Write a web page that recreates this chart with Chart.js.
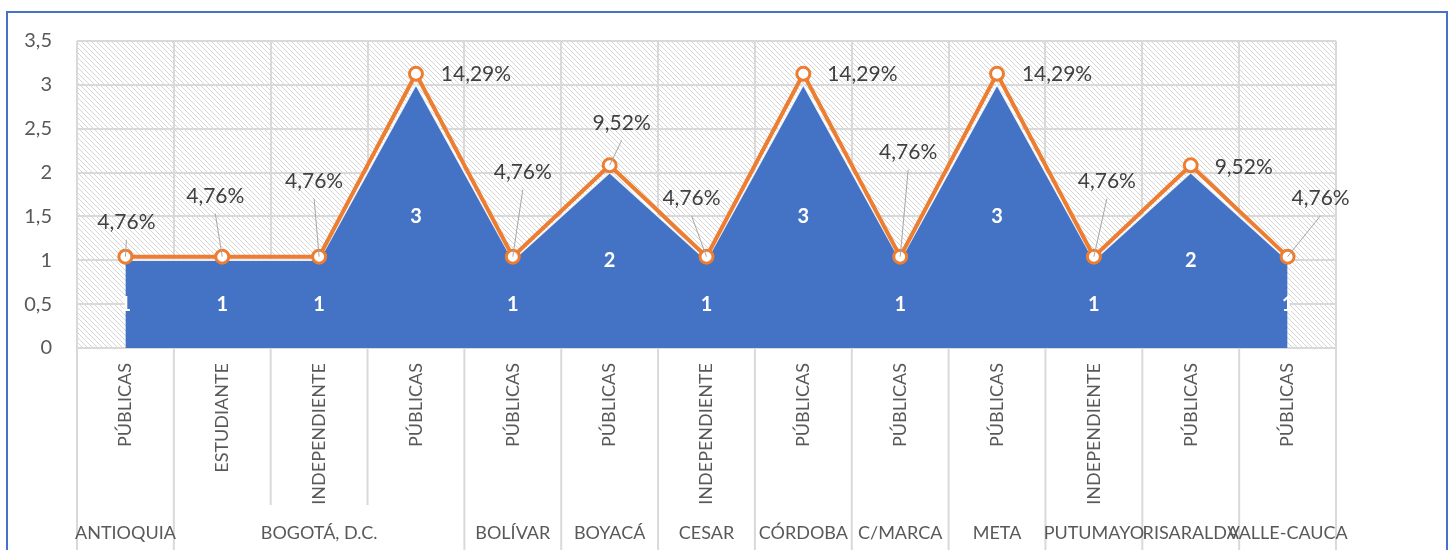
<!DOCTYPE html>
<html>
<head>
<meta charset="utf-8">
<script src="https://cdn.jsdelivr.net/npm/chart.js@4"></script>
<style>
  body{margin:0;background:#fff;overflow:hidden}
  #frame{position:absolute;left:6px;top:11px;width:1442px;height:620px;border:2px solid #4472C4;box-sizing:border-box}
  #wrap{position:absolute;left:0;top:0;width:1450px;height:550px}
</style>
</head>
<body>
<div id="frame"></div>
<div id="wrap"><canvas id="c"></canvas></div>
<script>
// data
var subLabels = ['PÚBLICAS','ESTUDIANTE','INDEPENDIENTE','PÚBLICAS','PÚBLICAS','PÚBLICAS','INDEPENDIENTE','PÚBLICAS','PÚBLICAS','PÚBLICAS','INDEPENDIENTE','PÚBLICAS','PÚBLICAS'];
var groupLabels = ['ANTIOQUIA','BOGOTÁ, D.C.','BOLÍVAR','BOYACÁ','CESAR','CÓRDOBA','C/MARCA','META','PUTUMAYO','RISARALDA','VALLE-CAUCA'];
var groupSpans = [1,3,1,1,1,1,1,1,1,1,1];
var counts = [1,1,1,3,1,2,1,3,1,3,1,2,1];
var shares = [0.0476,0.0476,0.0476,0.1429,0.0476,0.0952,0.0476,0.1429,0.0476,0.1429,0.0476,0.0952,0.0476];
var yTicks = [0,0.5,1,1.5,2,2.5,3,3.5];

// where each % label sits relative to its point (dx, dy)
var pctOffsets = [[1,-34],[-7,-60],[-5,-75],[60,0],[10,-84],[12,-42],[-15,-58],[59,0],[8,-104],[60,0],[13,-75],[53,2],[33,-58]];

var FONT = 'Lato';
var GRID = '#d9d9d9';

function comma(v){ return String(v).replace('.',','); }
function pct(v){ return (v*100).toFixed(2).replace('.',',') + '%'; }

function hatch(){
  var t = document.createElement('canvas');
  t.width = 5; t.height = 5;
  var g = t.getContext('2d');
  g.fillStyle = '#fff'; g.fillRect(0,0,5,5);
  g.fillStyle = '#d6d6d6';
  for (var i = 0; i < 5; i++) g.fillRect(i, i, 1, 1);
  return t;
}

var decor = {
  id: 'decor',
  beforeDraw: function(chart){
    var a = chart.chartArea, ctx = chart.ctx;
    ctx.save();
    ctx.fillStyle = ctx.createPattern(hatch(), 'repeat');
    ctx.fillRect(a.left, a.top, a.right - a.left, a.bottom - a.top);
    ctx.restore();
  },
  afterDatasetsDraw: function(chart){
    var ctx = chart.ctx, xs = chart.scales.x, ys = chart.scales.y, y2 = chart.scales.y2;
    ctx.save();
    // values inside the area
    ctx.fillStyle = '#fff';
    ctx.font = 'bold 20px ' + FONT;
    ctx.textAlign = 'center'; ctx.textBaseline = 'middle';
    counts.forEach(function(v, i){
      ctx.fillText(String(v), xs.getPixelForValue(i), ys.getPixelForValue(v/2));
    });
    // share labels with leader lines
    ctx.font = '21px ' + FONT;
    shares.forEach(function(v, i){
      var px = xs.getPixelForValue(i), py = y2.getPixelForValue(v);
      var lx = px + pctOffsets[i][0], ly = py + pctOffsets[i][1];
      if (pctOffsets[i][1] < -20) {
        ctx.strokeStyle = '#a6a6a6'; ctx.lineWidth = 1;
        ctx.beginPath(); ctx.moveTo(lx, ly + 17); ctx.lineTo(px, py); ctx.stroke();
      }
      ctx.fillStyle = '#404040';
      ctx.fillText(pct(v), lx, ly);
    });
    ctx.restore();
  },
  afterDraw: function(chart){
    var ctx = chart.ctx, xs = chart.scales.x, a = chart.chartArea;
    ctx.save();
    // separators under the axis
    var bounds = [0], k = 0;
    groupSpans.forEach(function(n){ k += n; bounds.push(k); });
    ctx.strokeStyle = GRID; ctx.lineWidth = 2;
    for (var b = 0; b <= subLabels.length; b++) {
      var x = xs.getPixelForValue(b - 0.5);
      var end = bounds.indexOf(b) >= 0 ? chart.height : 505;
      ctx.beginPath(); ctx.moveTo(x, a.bottom); ctx.lineTo(x, end); ctx.stroke();
    }
    // group labels
    ctx.fillStyle = '#595959';
    ctx.font = '18px ' + FONT;
    ctx.textAlign = 'center'; ctx.textBaseline = 'middle';
    var s = 0;
    groupLabels.forEach(function(g, i){
      var n = groupSpans[i];
      var cx = (xs.getPixelForValue(s - 0.5) + xs.getPixelForValue(s + n - 0.5)) / 2;
      ctx.fillText(g, cx, 533);
      s += n;
    });
    ctx.restore();
  }
};

new Chart(document.getElementById('c'), {
  type: 'line',
  data: {
    labels: subLabels,
    datasets: [
      {
        data: shares, yAxisID: 'y2', order: 0,
        borderColor: '#ED7D31', borderWidth: 4,
        pointRadius: 6.5, pointBorderWidth: 3, pointBackgroundColor: '#fff', pointBorderColor: '#ED7D31',
        tension: 0
      },
      {
        data: counts, yAxisID: 'y', order: 1,
        fill: 'origin', backgroundColor: '#4472C4',
        borderColor: 'rgba(255,255,255,0.85)', borderWidth: 1.5,
        pointRadius: 0, tension: 0
      }
    ]
  },
  options: {
    responsive: true, maintainAspectRatio: false, animation: false,
    layout: { padding: { left: 0, top: 41, right: 114, bottom: 0 } },
    plugins: { legend: { display: false }, tooltip: { enabled: false } },
    scales: {
      x: {
        offset: true,
        grid: { offset: true, color: GRID, lineWidth: 2, drawTicks: false },
        border: { color: GRID, width: 2 },
        ticks: { minRotation: 90, maxRotation: 90, autoSkip: false, padding: 15, color: '#595959', font: { family: FONT, size: 18 } },
        afterFit: function(s){ s.height = 202; }
      },
      y: {
        min: 0, max: 3.5,
        afterBuildTicks: function(s){ s.ticks = yTicks.map(function(v){ return { value: v }; }); },
        grid: { color: GRID, lineWidth: 2, drawTicks: false },
        border: { display: false },
        ticks: { padding: 25, color: '#595959', font: { family: FONT, size: 20 }, callback: function(v){ return comma(v); } },
        afterFit: function(s){ s.width = 77; }
      },
      y2: { display: false, min: 0, max: 0.16 }
    }
  },
  plugins: [decor]
});
</script>
</body>
</html>
